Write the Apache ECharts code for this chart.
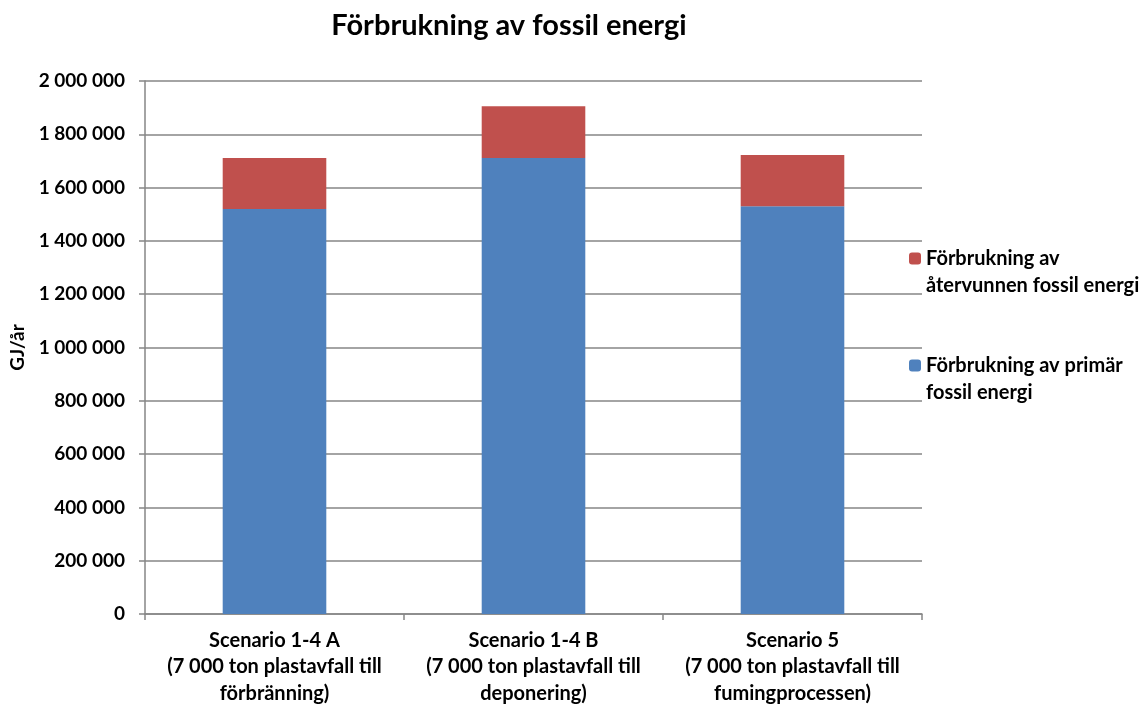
<!DOCTYPE html>
<html>
<head>
<meta charset="utf-8">
<script src="https://cdn.jsdelivr.net/npm/echarts@6/dist/echarts.min.js"></script>
<style>
  html, body { margin: 0; padding: 0; background: #fff; }
  #chart { width: 1146px; height: 704px; }
</style>
</head>
<body>
<div id="chart"></div>
<script>
// Fossil energy use per scenario, GJ per year
const categories = [
  'Scenario 1-4 A\n(7 000 ton plastavfall till\nförbränning)',
  'Scenario 1-4 B\n(7 000 ton plastavfall till\ndeponering)',
  'Scenario 5\n(7 000 ton plastavfall till\nfumingprocessen)'
];
const primaryName = 'Förbrukning av primär fossil energi';
const recycledName = 'Förbrukning av återvunnen fossil energi';
const primaryValues = [1520000, 1711000, 1530000];
const recycledValues = [191000, 194000, 192000];
const yTicks = { min: 0, max: 2000000, interval: 200000 };

const FONT = 'Lato, "Open Sans", sans-serif';
const GRAY = '#868686';

// Space as thousands separator (Swedish style)
function fmt(v) {
  return String(v).replace(/\B(?=(\d{3})+(?!\d))/g, ' ');
}

// Legend labels wrap onto two lines; a leading blank line keeps the
// first line level with the colour swatch.
const legendLabels = {};
legendLabels[recycledName] = '\nFörbrukning av\nåtervunnen fossil energi';
legendLabels[primaryName] = '\nFörbrukning av primär\nfossil energi';

const chart = echarts.init(document.getElementById('chart'), null, { renderer: 'canvas' });
chart.setOption({
  animation: false,
  backgroundColor: '#fff',
  title: {
    text: 'Förbrukning av fossil energi',
    left: 504,
    textAlign: 'center',
    top: 6,
    textStyle: { fontFamily: FONT, fontWeight: 'bold', fontSize: 29, color: '#000' }
  },
  legend: {
    orient: 'vertical',
    left: 909,
    top: 218,
    padding: 0,
    itemWidth: 12,
    itemHeight: 12,
    itemGap: 26,
    data: [recycledName, primaryName],
    formatter: function (name) { return legendLabels[name]; },
    textStyle: {
      fontFamily: FONT, fontWeight: 'bold', fontSize: 20, color: '#000',
      lineHeight: 27
    }
  },
  grid: { left: 145, right: 224, top: 81, bottom: 90, containLabel: false, outerBoundsMode: 'none' },
  xAxis: {
    type: 'category',
    data: categories,
    axisLine: { lineStyle: { color: GRAY, width: 1.5 } },
    axisTick: { show: true, alignWithLabel: false, length: 6, lineStyle: { color: GRAY, width: 1.5 } },
    axisLabel: {
      interval: 0, margin: 13,
      fontFamily: FONT, fontWeight: 'bold', fontSize: 20, color: '#000', lineHeight: 26.5
    }
  },
  yAxis: {
    type: 'value',
    min: yTicks.min,
    max: yTicks.max,
    interval: yTicks.interval,
    name: 'GJ/år',
    nameLocation: 'middle',
    nameRotate: 90,
    nameGap: 116,
    nameTextStyle: { fontFamily: FONT, fontWeight: 'bold', fontSize: 19, color: '#000' },
    axisLine: { show: true, lineStyle: { color: GRAY, width: 1.5 } },
    axisTick: { show: true, length: 6, lineStyle: { color: GRAY, width: 1.5 } },
    splitLine: { lineStyle: { color: GRAY, width: 1.5 } },
    axisLabel: {
      margin: 20,
      formatter: fmt,
      fontFamily: FONT, fontWeight: 'bold', fontSize: 19, color: '#000'
    }
  },
  series: [
    {
      name: primaryName,
      type: 'bar',
      stack: 'total',
      barWidth: '40%',
      data: primaryValues,
      itemStyle: { color: '#4F81BD' }
    },
    {
      name: recycledName,
      type: 'bar',
      stack: 'total',
      barWidth: '40%',
      data: recycledValues,
      itemStyle: { color: '#C0504D' }
    }
  ]
});
</script>
</body>
</html>
